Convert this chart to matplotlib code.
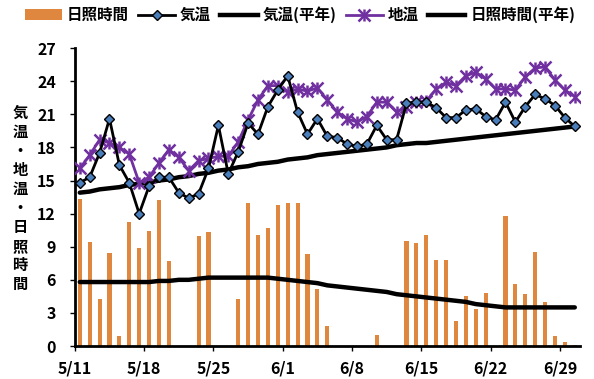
import matplotlib
matplotlib.use("Agg")
import matplotlib.pyplot as plt
from matplotlib.lines import Line2D
from matplotlib.patches import Patch
import numpy as np

plt.rcParams['font.family'] = ['Noto Sans CJK JP', 'DejaVu Sans']
plt.rcParams['font.weight'] = 'bold'

tick_labels = ["5/11", "5/18", "5/25", "6/1", "6/8", "6/15", "6/22", "6/29"]

sunshine = [13.3, 9.4, 4.3, 8.4, 0.9, 11.2, 8.9, 10.4, 13.2, 7.7,
            0.0, 0.0, 10.0, 10.3, 0.0, 0.0, 4.3, 13.0, 10.1, 10.7,
            12.8, 13.0, 13.0, 8.3, 5.2, 1.8, 0.0, 0.0, 0.0, 0.0,
            1.0, 0.0, 0.0, 9.5, 9.3, 10.1, 7.8, 7.8, 2.3, 4.5,
            3.4, 4.8, 0.0, 11.8, 5.6, 4.7, 8.5, 4.0, 0.9, 0.4,
            0.1]

air_temp = [14.8, 15.3, 17.5, 20.6, 16.4, 14.8, 12.0, 14.5, 15.3, 15.3,
            13.9, 13.4, 13.8, 16.1, 20.0, 15.6, 17.6, 20.2, 19.2, 21.7,
            23.2, 24.5, 21.2, 19.2, 20.6, 19.0, 18.9, 18.3, 18.1, 18.3,
            20.0, 18.7, 18.7, 22.0, 22.1, 22.1, 21.6, 20.7, 20.7, 21.4,
            21.5, 20.8, 20.5, 22.1, 20.3, 21.7, 22.8, 22.4, 21.8, 20.7,
            19.9]

ground_temp = [16.1, 17.3, 18.7, 18.4, 18.0, 17.4, 14.8, 15.3, 16.6, 17.8,
               17.1, 15.9, 16.8, 17.0, 17.2, 17.2, 18.5, 20.5, 22.3, 23.6,
               23.6, 23.0, 23.3, 23.1, 23.4, 22.3, 21.2, 20.6, 20.3, 20.8,
               22.1, 22.1, 21.2, 21.7, 22.1, 22.2, 23.3, 23.9, 23.6, 24.5,
               24.8, 24.2, 23.3, 23.3, 23.2, 24.4, 25.2, 25.3, 24.1, 23.2,
               22.6]

air_normal = [13.9, 14.0, 14.2, 14.3, 14.4, 14.6, 14.7, 14.8, 15.0, 15.1,
              15.3, 15.4, 15.6, 15.7, 15.9, 16.0, 16.2, 16.3, 16.5, 16.6,
              16.7, 16.9, 17.0, 17.1, 17.3, 17.4, 17.5, 17.6, 17.7, 17.8,
              17.9, 18.0, 18.2, 18.3, 18.4, 18.4, 18.5, 18.6, 18.7, 18.8,
              18.9, 19.0, 19.1, 19.2, 19.3, 19.4, 19.5, 19.6, 19.7, 19.8,
              19.9]

sun_normal = [5.8, 5.8, 5.8, 5.8, 5.8, 5.8, 5.8, 5.8, 5.9, 5.9,
              6.0, 6.0, 6.1, 6.2, 6.2, 6.2, 6.2, 6.2, 6.2, 6.2,
              6.1, 6.0, 5.9, 5.8, 5.7, 5.5, 5.4, 5.3, 5.2, 5.1,
              5.0, 4.9, 4.7, 4.6, 4.5, 4.4, 4.3, 4.2, 4.1, 4.0,
              3.8, 3.7, 3.6, 3.5, 3.5, 3.5, 3.5, 3.5, 3.5, 3.5,
              3.5]

n = len(sunshine)
x = np.arange(n) + 0.5

fig = plt.figure(figsize=(5.94, 3.79), dpi=100)
ax = fig.add_axes([0.126, 0.087, 0.850, 0.786])

orange = '#E0873F'
purple = '#7030A0'
blue = '#4A7EBB'

ax.bar(x, sunshine, width=0.42, color=orange, zorder=1)
ax.plot(x, sun_normal, color='black', lw=3.2, zorder=2, solid_capstyle='round')
ax.plot(x, air_normal, color='black', lw=3.2, zorder=2, solid_capstyle='round')
ax.plot(x, ground_temp, color=purple, lw=2.0, marker='x', ms=8, mew=1.8, zorder=3)
ax.plot(x, ground_temp, color=purple, lw=0, marker='|', ms=8, mew=1.8, zorder=3)
ax.plot(x, air_temp, color='black', lw=2.0, marker='D', ms=5.5,
        mfc=blue, mec='black', mew=1.0, zorder=4)

ax.set_xlim(0, n)
ax.set_ylim(0, 27)
ax.set_yticks(np.arange(0, 28, 3))
ax.set_xticks(np.arange(0, n, 7))
ax.set_xticklabels(tick_labels)
for lab in ax.get_xticklabels() + ax.get_yticklabels():
    lab.set_fontweight('bold')
    lab.set_fontsize(11.5)
ax.spines['top'].set_visible(False)
ax.spines['right'].set_visible(False)
ax.spines['left'].set_linewidth(2)
ax.spines['bottom'].set_linewidth(2)
ax.tick_params(axis='y', direction='out', length=3.6, width=1, pad=10)
ax.tick_params(axis='x', direction='out', length=3.6, width=1, pad=7)

ylabel = "気温・地温・日照時間"
fig.text(20/594, 1-198.5/379, "\n".join(ylabel), ha='center', va='center',
         fontsize=11, fontweight='bold', linespacing=1.23)

h_bar = Patch(facecolor=orange, edgecolor='none')
h_air = Line2D([], [], color='black', lw=2.0, marker='D', ms=5, mfc=blue, mec='black', mew=1.0)
h_airn = Line2D([], [], color='black', lw=3.2)
h_gx = Line2D([], [], color=purple, lw=2.0, marker='x', ms=8, mew=1.8)
h_gb = Line2D([], [], color=purple, lw=0, marker='|', ms=8, mew=1.8)
h_sunn = Line2D([], [], color='black', lw=3.2)
fig.legend([h_bar, h_air, h_airn, (h_gx, h_gb), h_sunn],
           ["日照時間", "気温", "気温(平年)", "地温", "日照時間(平年)"],
           loc='center', bbox_to_anchor=(0.505, 1-15/379), ncol=5, frameon=False,
           prop={'weight': 'bold', 'size': 11.2}, handlelength=2.4,
           handletextpad=0.3, columnspacing=0.6, borderaxespad=0)

fig.savefig("out.png", dpi=100)
